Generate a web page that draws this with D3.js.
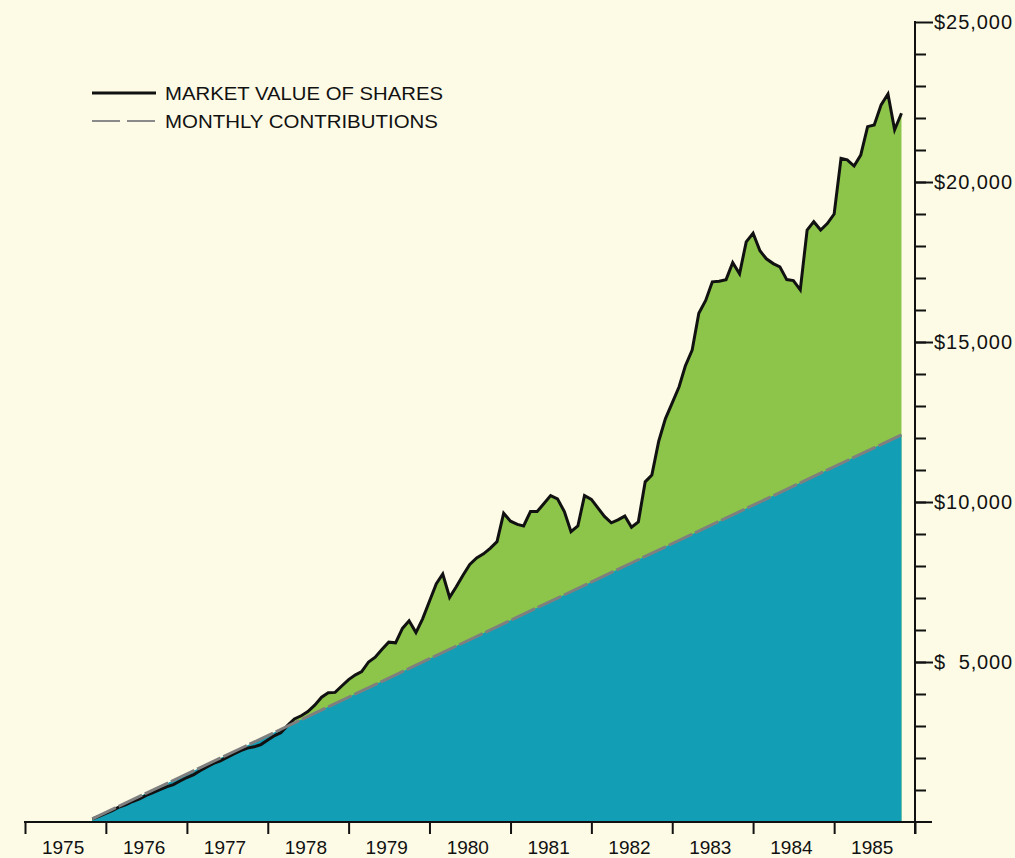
<!DOCTYPE html>
<html>
<head>
<meta charset="utf-8">
<script src="https://cdn.jsdelivr.net/npm/d3@7"></script>
<style>
    body { margin: 0; background: #fdfbe6; }
    svg { display: block; font-family: 'Liberation Sans', Arial, sans-serif; }
</style>
</head>
<body>
<svg width="1015" height="858"></svg>
<script>
// Years shown under the bottom axis
const years = [1975, 1976, 1977, 1978, 1979, 1980, 1981, 1982, 1983, 1984, 1985];

// Labelled dollar ticks on the right axis
const dollarTicks = [5000, 10000, 15000, 20000, 25000];
const dollarLabels = ['$  5,000', '$10,000', '$15,000', '$20,000', '$25,000'];

// First month of the plan (year, month index) -> November 1975
const firstMonth = [1975, 10];

// Market value of shares, one value per month from Nov 1975 to Nov 1985
const marketValues = [
    100, 180, 270, 360, 470, 540, 640, 720, 830, 920,
    1010, 1100, 1170, 1280, 1390, 1480, 1600, 1720, 1830, 1910,
    2020, 2130, 2230, 2310, 2350, 2420, 2560, 2700, 2790, 3020,
    3220, 3320, 3450, 3650, 3900, 4040, 4050, 4250, 4450, 4600,
    4700, 5000, 5150, 5400, 5620, 5600, 6050, 6290, 5920, 6350,
    6900, 7450, 7750, 7020, 7350, 7720, 8050, 8250, 8380, 8550,
    8760, 9650, 9400, 9300, 9250, 9700, 9700, 9950, 10200, 10100,
    9700, 9070, 9250, 10200, 10080, 9800, 9550, 9350, 9440, 9560,
    9210, 9380, 10630, 10840, 11900, 12600, 13100, 13600, 14250, 14750,
    15900, 16300, 16880, 16900, 16950, 17480, 17130, 18130, 18400, 17850,
    17600, 17450, 17350, 16950, 16920, 16630, 18500, 18760, 18500, 18700,
    19000, 20740, 20690, 20500, 20840, 21730, 21780, 22410, 22750, 21630,
    22150
];

// Total of monthly contributions: first month and last month ($100 a month)
const contributions = [100, 12100];

// Legend entries
const legendLabels = ['MARKET VALUE OF SHARES', 'MONTHLY CONTRIBUTIONS'];

const svg = d3.select('svg');

const colors = {
    green: '#8cc54a',
    blue: '#129fb6',
    dash: '#7f7f7f',
    ink: '#111'
};

// Date for month number i counted from the first month
const monthDate = (i) => new Date(firstMonth[0], firstMonth[1] + i, 1);

const marketData = marketValues.map((v, i) => ({date: monthDate(i), value: v}));
const contribData = [
    {date: monthDate(0), value: contributions[0]},
    {date: monthDate(marketValues.length - 1), value: contributions[1]}
];

// Scales
const x = d3.scaleTime()
    .domain([new Date(1975, 0, 1), new Date(1986, 0, 1)])
    .range([25, 915]);
const y = d3.scaleLinear()
    .domain([0, 25000])
    .range([822, 22]);

// Areas: green under market value, blue under contributions on top of it
const area = d3.area()
    .x(d => x(d.date))
    .y0(y(0))
    .y1(d => y(d.value));
const line = d3.line()
    .x(d => x(d.date))
    .y(d => y(d.value));

svg.append('path')
    .datum(marketData)
    .attr('d', area)
    .style('fill', colors.green);

svg.append('path')
    .datum(contribData)
    .attr('d', area)
    .style('fill', colors.blue);

// Market line then the dashed contributions line
svg.append('path')
    .datum(marketData)
    .attr('d', line)
    .style('fill', 'none')
    .style('stroke', colors.ink)
    .style('stroke-width', 3)
    .style('stroke-linejoin', 'miter');

svg.append('path')
    .datum(contribData)
    .attr('d', line)
    .style('fill', 'none')
    .style('stroke', colors.dash)
    .style('stroke-width', 3)
    .style('stroke-dasharray', '26,3');

// Bottom axis: ticks at the start of each year, labels in the middle
const yearStarts = years.map(yr => new Date(yr, 0, 1)).concat([new Date(1986, 0, 1)]);
const xAxis = svg.append('g')
    .attr('transform', `translate(0,${y(0)})`)
    .call(d3.axisBottom(x).tickValues(yearStarts).tickSize(12).tickFormat(''));
xAxis.select('.domain').remove();
xAxis.selectAll('.tick line').style('stroke', colors.ink).style('stroke-width', 2);

svg.append('line')
    .attr('x1', 24).attr('x2', 932)
    .attr('y1', y(0)).attr('y2', y(0))
    .style('stroke', colors.ink)
    .style('stroke-width', 2);

svg.selectAll('.year')
    .data(years)
    .enter().append('text')
    .attr('class', 'year')
    .attr('x', yr => x(new Date(yr, 6, 1)) - 2)
    .attr('y', 854)
    .attr('text-anchor', 'middle')
    .style('font-size', '19px')
    .style('fill', colors.ink)
    .text(yr => yr);

// Right axis: minor tick every $1,000, longer ticks for labelled values
const yAxisMinor = svg.append('g')
    .attr('transform', `translate(${x(new Date(1986, 0, 1))},0)`)
    .call(d3.axisRight(y).tickValues(d3.range(1000, 25000, 1000)).tickSize(11).tickFormat(''));
yAxisMinor.select('.domain').remove();
yAxisMinor.selectAll('.tick line').style('stroke', colors.ink).style('stroke-width', 2);

const yAxisMajor = svg.append('g')
    .attr('transform', `translate(${x(new Date(1986, 0, 1))},0)`)
    .call(d3.axisRight(y).tickValues(dollarTicks).tickSize(18).tickFormat(''));
yAxisMajor.select('.domain').remove();
yAxisMajor.selectAll('.tick line').style('stroke', colors.ink).style('stroke-width', 2);

svg.append('line')
    .attr('x1', x(new Date(1986, 0, 1))).attr('x2', x(new Date(1986, 0, 1)))
    .attr('y1', y(25000) - 1).attr('y2', 834)
    .style('stroke', colors.ink)
    .style('stroke-width', 2);

// Dollar labels right of the long ticks
svg.selectAll('.dollar')
    .data(dollarTicks)
    .enter().append('text')
    .attr('class', 'dollar')
    .attr('x', 934)
    .attr('y', v => y(v) + 7)
    .attr('textLength', 78)
    .attr('lengthAdjust', 'spacing')
    .style('white-space', 'pre')
    .style('font-size', '20px')
    .style('fill', colors.ink)
    .text((v, i) => dollarLabels[i]);

// Legend
const legend = svg.append('g');
legendLabels.forEach((label, i) => {
    let ly = 93 + i * 28;
    legend.append('line')
        .attr('x1', 92).attr('x2', 156)
        .attr('y1', ly).attr('y2', ly)
        .style('stroke', i === 0 ? colors.ink : '#8a8a8a')
        .style('stroke-width', i === 0 ? 3 : 2)
        .style('stroke-dasharray', i === 0 ? null : '28,7');
    legend.append('text')
        .attr('x', 165)
        .attr('y', ly + 7)
        .style('font-size', '19px')
        .style('fill', colors.ink)
        .attr('textLength', i === 0 ? 278 : 273)
        .attr('lengthAdjust', 'spacingAndGlyphs')
        .text(label);
});
</script>
</body>
</html>
